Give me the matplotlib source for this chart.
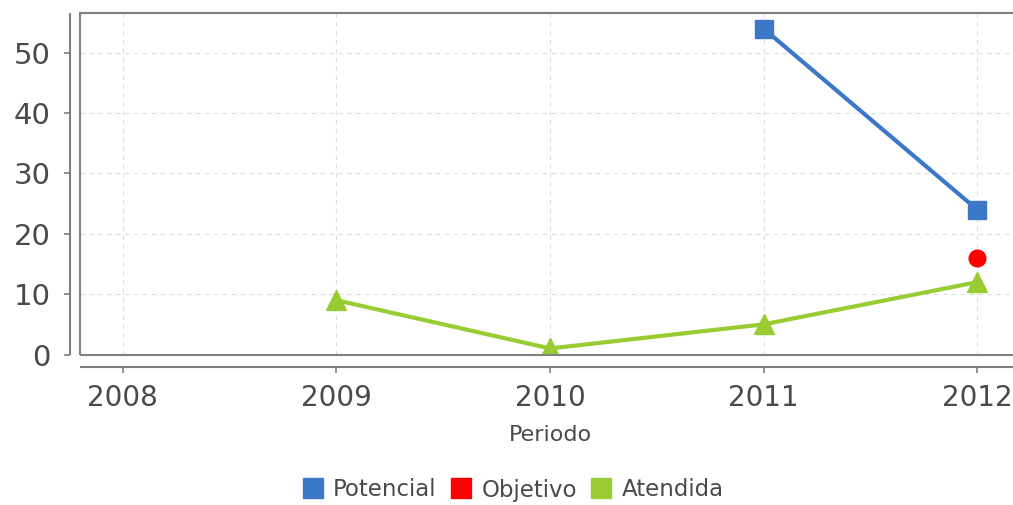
import matplotlib
matplotlib.use("Agg")
import matplotlib.pyplot as plt
from matplotlib.patches import Rectangle
from matplotlib.lines import Line2D

years_potencial = [2011, 2012]
potencial       = [54, 24]
years_objetivo  = [2012]
objetivo        = [16]
years_atendida  = [2009, 2010, 2011, 2012]
atendida        = [9, 1, 5, 12]
x_ticks = [2008, 2009, 2010, 2011, 2012]
y_ticks = [0, 10, 20, 30, 40, 50]

BLUE  = "#3c78c8"
RED   = "#ff0000"
GREEN = "#99cc33"
FRAME = "#808080"
TEXT  = "#4a4a4a"

W, H = 1013, 505
fig = plt.figure(figsize=(W / 100, H / 100), dpi=100)
ax = fig.add_axes([80 / W, (H - 354.5) / H, (1020 - 80) / W, (354.5 - 13) / H])

ax.plot(years_potencial, potencial, color=BLUE, lw=3, marker="s", ms=13, zorder=3)
ax.plot(years_objetivo, objetivo, color=RED, lw=0, marker="o", ms=12, zorder=3)
ax.plot(years_atendida, atendida, color=GREEN, lw=3, marker="^", ms=14, zorder=3)

ax.set_xlim(2007.8, 2012.2)
ax.set_ylim(0, 56.6)
ax.set_xticks(x_ticks)
ax.set_yticks(y_ticks)
ax.grid(True, color="#dcdcdc", linestyle=(0, (4, 4)), linewidth=0.8)
ax.set_axisbelow(True)

# offset axis lines, frame drawn separately
for s in ("top", "right"):
    ax.spines[s].set_color(FRAME)
    ax.spines[s].set_linewidth(1.5)
ax.spines["left"].set_position(("outward", 7.5))
ax.spines["bottom"].set_position(("outward", 9))
for s in ("left", "bottom"):
    ax.spines[s].set_color(FRAME)
    ax.spines[s].set_linewidth(1.5)
    ax.spines[s].set_capstyle("butt")
ax.add_patch(Rectangle((0, 0), 1, 1, transform=ax.transAxes, fill=False,
                       edgecolor=FRAME, lw=1.5, clip_on=False, zorder=4))

ax.tick_params(axis="y", length=4.5, width=1.2, color=FRAME, pad=9,
               labelsize=21, labelcolor=TEXT)
ax.tick_params(axis="x", length=4, width=1.2, color=FRAME, pad=8,
               labelsize=20, labelcolor=TEXT)

fig.text(550 / W, 1 - 435 / H, "Periodo", ha="center", va="center",
         fontsize=16, color=TEXT)

handles = [Line2D([], [], color=c, marker="s", lw=0, ms=14)
           for c in (BLUE, RED, GREEN)]
fig.legend(handles, ["Potencial", "Objetivo", "Atendida"], loc="center",
           bbox_to_anchor=(513 / W, 1 - 490 / H), ncol=3, frameon=False,
           fontsize=16.5, labelcolor=TEXT, handlelength=0.9, handletextpad=0.45,
           columnspacing=0.6)

fig.savefig("out.png", dpi=100)
